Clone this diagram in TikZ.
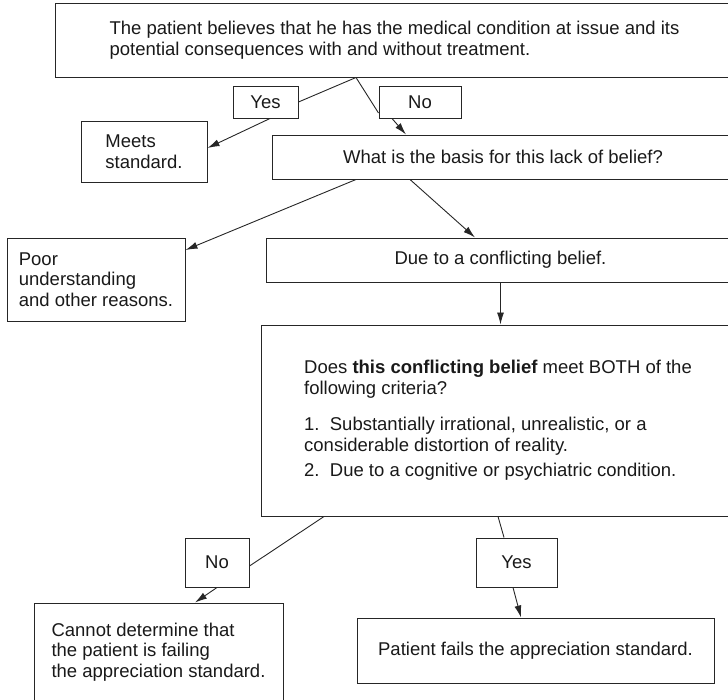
\documentclass[tikz,border=0pt]{standalone}
\usepackage{fontspec}
\setmainfont{Liberation Sans}
\usetikzlibrary{arrows.meta}

\begin{document}
\begin{tikzpicture}[x=1pt, y=-1pt,
    every node/.style={font=\fontsize{18.5}{20.5}\selectfont, text=black!90},
    box/.style={draw=black!85, line width=1pt, rectangle, inner sep=0pt, align=left},
    arr/.style={draw=black!85, line width=0.9pt, -{Latex[length=12pt,width=7pt]}},
    lin/.style={draw=black!85, line width=0.9pt}]
  % Frame of the page (boxes on the right run past it)
  \useasboundingbox (0,0) rectangle (728,699);
  \clip (0,0) rectangle (728,699);

  % Question at the top
  \node[box, minimum width=679, minimum height=74] (belief) at (394.5,40)
    {The patient believes that he has the medical condition at issue and its\\
     potential consequences with and without treatment.};

  % First answers
  \node[box, minimum width=65, minimum height=32] (yesA) at (265.5,102) {Yes};
  \node[box, minimum width=82, minimum height=32] (noA) at (420,102) {No};
  \node[box, minimum width=126, minimum height=61] (meets) at (144,151.5) {Meets\\standard.};
  \node[box, minimum width=462, minimum height=44] (basis) at (503,157)
    {What is the basis for this lack of belief?};

  % Reasons
  \node[box, minimum width=178, minimum height=83] (poor) at (96,279.5)
    {Poor\\understanding\\and other reasons.};
  \node[box, minimum width=469, minimum height=44] (conflict) at (500.5,260)
    {Due to a conflicting belief.};

  % Criteria
  \node[box, minimum width=474, minimum height=191] (criteria) at (498,420.5)
    {Does \textbf{this conflicting belief} meet BOTH of the\\
     following criteria?\\[16pt]
     1.\ \ Substantially irrational, unrealistic, or a\\
     considerable distortion of reality.\\[5pt]
     2.\ \ Due to a cognitive or psychiatric condition.};

  % Second answers
  \node[box, minimum width=64, minimum height=49] (noB) at (217,562.5) {No};
  \node[box, minimum width=81, minimum height=49] (yesB) at (516.5,562.5) {Yes};
  \node[box, minimum width=249, minimum height=98] (cannot) at (158.5,652)
    {Cannot determine that\\the patient is failing\\the appreciation standard.};
  \node[box, minimum width=357, minimum height=65] (fails) at (535.5,650.5)
    {Patient fails the appreciation standard.};

  % Connectors
  \draw[lin] ([xshift=-38.5]belief.south) -- (yesA.east);
  \draw[arr] ([xshift=4.5]yesA.south) -- ([yshift=3.5]meets.east);
  \draw[lin] ([xshift=-38.5]belief.south) -- ([yshift=-11]noA.west);
  \draw[arr] ([xshift=-28]noA.south) -- ([xshift=-97]basis.north);
  \draw[arr] ([xshift=-147]basis.south) -- ([yshift=29.5]poor.east);
  \draw[arr] ([xshift=-93]basis.south) -- ([xshift=-25.5]conflict.north);
  \draw[arr] (conflict.south) -- (conflict.south |- criteria.north);
  \draw[lin] ([xshift=-174]criteria.south) -- ([yshift=-3.5]noB.east);
  \draw[arr] (noB.south) -- ([xshift=36.5]cannot.north);
  \draw[lin] (criteria.south) -- ([xshift=-12.5]yesB.north);
  \draw[arr] ([xshift=-3.5]yesB.south) -- ([xshift=-14.5]fails.north);
\end{tikzpicture}
\end{document}
